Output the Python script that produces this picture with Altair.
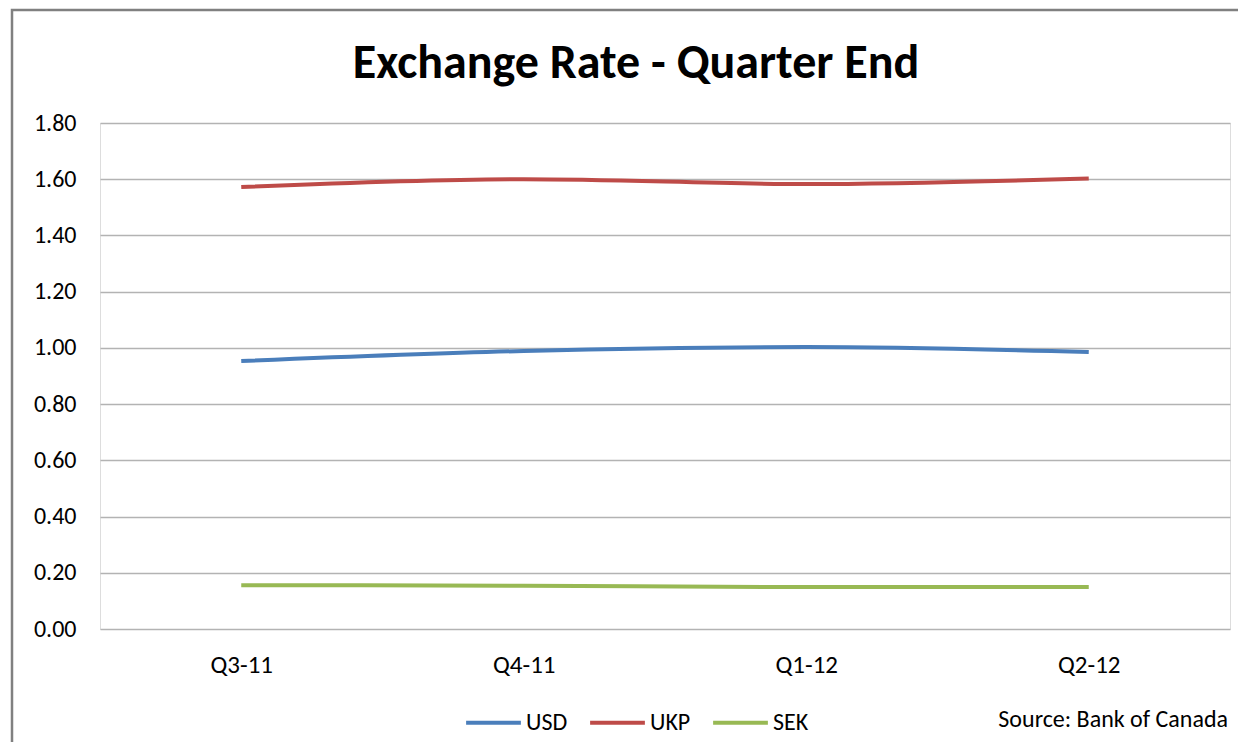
import altair as alt
import pandas as pd

quarters = ["Q3-11", "Q4-11", "Q1-12", "Q2-12"]
usd = [0.953, 0.989, 1.003, 0.985]
ukp = [1.572, 1.600, 1.583, 1.603]
sek = [0.156, 0.154, 0.149, 0.149]
series = ["USD", "UKP", "SEK"]
colors = ["#4a7ebb", "#be4b48", "#98b954"]
y_ticks = [0, 0.2, 0.4, 0.6, 0.8, 1.0, 1.2, 1.4, 1.6, 1.8]

rows = []
for name, vals in zip(series, [usd, ukp, sek]):
    for q, v in zip(quarters, vals):
        rows.append({"Quarter": q, "Currency": name, "Rate": v})
df = pd.DataFrame(rows)

FONT = "Carlito, Lato, sans-serif"
W, H = 1130, 506

lines = alt.Chart(df).mark_line(strokeWidth=4, interpolate="monotone").encode(
    x=alt.X("Quarter:N", sort=quarters,
            scale=alt.Scale(type="point", padding=0.5),
            axis=alt.Axis(title=None, labelAngle=0, ticks=False, domain=False,
                          labelFontSize=25, labelColor="#000", labelPadding=23,
                          labelFont=FONT, grid=False)),
    y=alt.Y("Rate:Q", scale=alt.Scale(domain=[0, 1.8], nice=False),
            axis=alt.Axis(title=None, values=y_ticks, format=".2f", ticks=False,
                          domain=False, labelFontSize=24, labelColor="#000",
                          labelPadding=24, labelFont=FONT, gridColor="#b3b3b3",
                          gridWidth=1.5)),
    color=alt.Color("Currency:N", sort=series,
                    scale=alt.Scale(domain=series, range=colors),
                    legend=alt.Legend(title=None, orient="none", direction="horizontal",
                                      legendX=364, legendY=570, symbolType="stroke",
                                      symbolSize=3000, symbolStrokeWidth=4,
                                      labelFontSize=24, labelFont=FONT, labelColor="#000",
                                      labelOffset=3, columnPadding=14)),
)

title_df = pd.DataFrame({"t": ["Exchange Rate - Quarter End"]})
title = alt.Chart(title_df).mark_text(
    fontSize=48, fontWeight="bold", font=FONT, color="#000", baseline="alphabetic",
    align="center"
).encode(text="t:N", x=alt.value(536), y=alt.value(-45))

src_df = pd.DataFrame({"t": ["Source: Bank of Canada"]})
source = alt.Chart(src_df).mark_text(
    fontSize=24, font=FONT, color="#000", align="right", baseline="middle"
).encode(text="t:N", x=alt.value(W - 2), y=alt.value(597))

border = alt.Chart(title_df).mark_rect(
    fill=None, stroke="#808080", strokeWidth=2.5
).encode(x=alt.value(-88), y=alt.value(-113), x2=alt.value(W + 60), y2=alt.value(H + 160))

chart = alt.layer(border, lines, title, source).properties(
    width=W, height=H,
    autosize=alt.AutoSizeParams(type="none"),
    padding={"left": 92, "top": 115, "right": 8, "bottom": 113},
).configure_view(stroke=None).configure(background="white")

chart.save("out.html", embed_options={"renderer": "svg", "actions": False})
